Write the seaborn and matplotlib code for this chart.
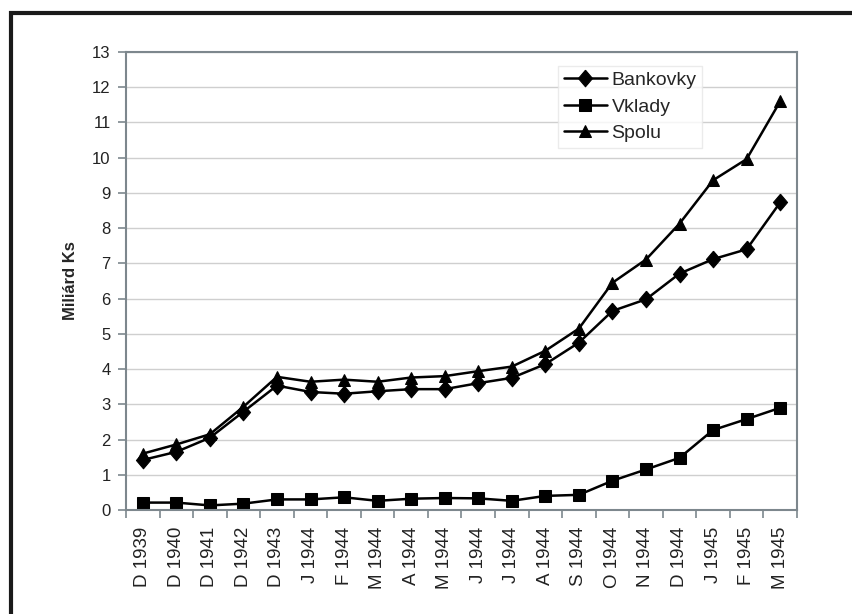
import matplotlib
matplotlib.use("Agg")
import matplotlib.pyplot as plt
from matplotlib.patches import Rectangle
import numpy as np
import pandas as pd
import seaborn as sns

categories = ["D 1939", "D 1940", "D 1941", "D 1942", "D 1943", "J 1944", "F 1944",
              "M 1944", "A 1944", "M 1944", "J 1944", "J 1944", "A 1944", "S 1944",
              "O 1944", "N 1944", "D 1944", "J 1945", "F 1945", "M 1945"]
bankovky = [1.42, 1.65, 2.05, 2.79, 3.53, 3.35, 3.30, 3.37, 3.43, 3.43, 3.60, 3.75,
            4.14, 4.75, 5.65, 5.98, 6.71, 7.12, 7.40, 8.73]
vklady = [0.21, 0.21, 0.13, 0.18, 0.30, 0.30, 0.36, 0.26, 0.32, 0.34, 0.33, 0.26,
          0.40, 0.43, 0.83, 1.15, 1.48, 2.27, 2.58, 2.90]
spolu = [1.60, 1.86, 2.15, 2.93, 3.78, 3.64, 3.70, 3.64, 3.76, 3.80, 3.94, 4.07,
         4.52, 5.15, 6.45, 7.11, 8.13, 9.36, 9.96, 11.60]
series_names = ["Bankovky", "Vklady", "Spolu"]
y_ticks = list(range(0, 14))

sns.set_theme(style="white")
plt.rcParams["font.family"] = ["Liberation Sans", "DejaVu Sans"]

pos = np.arange(len(categories))
df = pd.concat([
    pd.DataFrame({"pos": pos, "val": vals, "série": name})
    for name, vals in zip(series_names, [bankovky, vklady, spolu])
])

fig = plt.figure(figsize=(8.53, 6.14), dpi=100)
ax = fig.add_axes([0.1477, 0.1694, 0.7866, 0.7459])

gray = "#7d878d"
ax.set_axisbelow(True)
ax.yaxis.grid(True, color="#cfcfcf", linewidth=1.0)

diamond = [(0, 1), (0.85, 0), (0, -1), (-0.85, 0), (0, 1)]
sns.lineplot(data=df, x="pos", y="val", hue="série", style="série",
             hue_order=series_names, style_order=series_names,
             palette=["black", "black", "black"],
             markers={"Bankovky": diamond, "Vklady": "s", "Spolu": "^"},
             dashes=False, linewidth=1.8, markersize=9.3, markeredgecolor="black",
             ax=ax, legend=True)
for ln in ax.lines:
    if ln.get_label() == "Bankovky" or len(ln.get_xdata()) and np.allclose(ln.get_ydata(), bankovky):
        ln.set_markersize(12)

ax.set_xlim(-0.5, len(categories) - 0.5)
ax.set_ylim(0, 13)
ax.set_yticks(y_ticks)
ax.set_yticklabels([str(t) for t in y_ticks], fontsize=12, color="#222222")
ax.set_xticks(pos)
ax.set_xticklabels(categories, rotation=90, fontsize=13.5, color="#222222")
ax.set_xticks(np.arange(len(categories) + 1) - 0.5, minor=True)
ax.tick_params(axis="x", which="major", length=0, pad=12)
ax.tick_params(axis="x", which="minor", length=6, color=gray, width=1.2, bottom=True)
ax.tick_params(axis="y", which="major", length=6, color=gray, width=1.2, left=True, pad=5)
ax.set_xlabel("")
ax.set_ylabel("Miliárd Ks", fontsize=12, fontweight="bold")
ax.yaxis.set_label_coords(-0.0715, 0.5)

for sp in ax.spines.values():
    sp.set_visible(True)
    sp.set_color(gray)
    sp.set_linewidth(1.5)

handles, labels = ax.get_legend_handles_labels()
for h, l in zip(handles, labels):
    if l == "Bankovky":
        h.set_markersize(12)
leg = ax.legend(handles, labels, loc="upper left", bbox_to_anchor=(0.644, 0.970),
                frameon=True, fancybox=False, edgecolor="#e6e6e6", fontsize=14,
                handlelength=2.2, handletextpad=0.25, labelspacing=0.45,
                borderpad=0.3, borderaxespad=0)
leg.get_frame().set_linewidth(1.0)

fig.add_artist(Rectangle((11 / 853, -0.2), 1.2, 1 - 13 / 614 + 0.2,
                         transform=fig.transFigure, fill=False,
                         edgecolor="#1a1a1a", linewidth=3))

fig.savefig("out.png", dpi=100)
